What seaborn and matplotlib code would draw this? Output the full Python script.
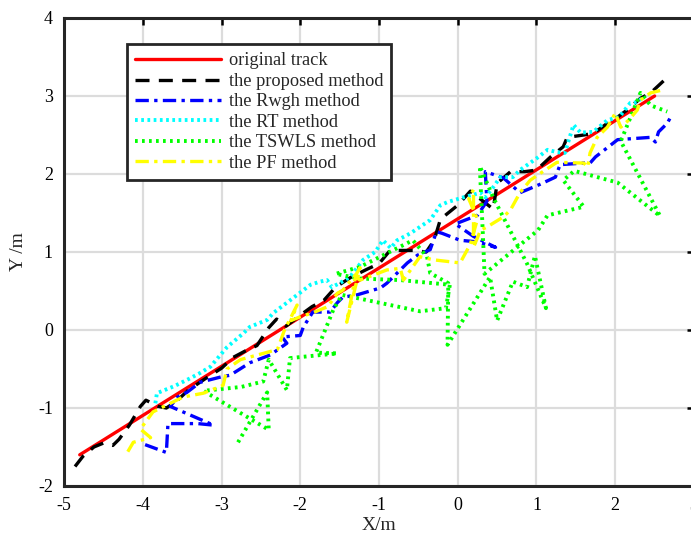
import numpy as np
import pandas as pd
import seaborn as sns
import matplotlib
matplotlib.use("Agg")
import matplotlib.pyplot as plt

# ---- trajectory data (metres) ----
orig_x = [-4.80, 2.50]
orig_y = [-1.60, 3.00]

prop_x = [-4.86, -4.76, -4.62, -4.50, -4.38, -4.30, -4.17, -4.03, -3.96, -3.80, -3.70, -3.58,
          -3.42, -3.20, -3.00, -2.85, -2.70, -2.55, -2.40, -2.30, -2.18, -2.00, -1.85, -1.70,
          -1.55, -1.35, -1.15, -1.00, -0.86, -0.57, -0.40, -0.30, -0.22, 0.00, 0.16, 0.45,
          0.50, 0.67, 0.85, 1.00, 1.18, 1.34, 1.39, 1.60, 1.72, 1.90, 2.03, 2.15, 2.32, 2.45, 2.62]
prop_y = [-1.75, -1.62, -1.50, -1.45, -1.48, -1.40, -1.22, -0.98, -0.90, -0.98, -1.00, -0.92,
          -0.77, -0.62, -0.49, -0.35, -0.27, -0.20, 0.03, 0.14, 0.05, 0.19, 0.30, 0.38,
          0.55, 0.68, 0.78, 0.85, 1.02, 1.02, 1.00, 1.15, 1.42, 1.60, 1.78, 1.55,
          1.88, 2.03, 2.03, 2.05, 2.22, 2.35, 2.47, 2.50, 2.52, 2.65, 2.73, 2.82, 2.97, 3.04, 3.20]

rwgh_x = [-3.97, -3.70, -3.68, -3.30, -3.10, -3.65, -3.56, -3.44, -3.27, -3.00, -2.89, -2.64,
          -2.38, -2.17, -2.23, -2.00, -1.96, -1.84, -1.62, -1.53, -1.46, -1.28, -0.98, -0.90,
          -0.64, -0.51, -0.35, -0.27, -0.20, 0.03, 0.25, 0.48, 0.20, -0.03, 0.25, 0.37,
          0.35, 0.58, 0.79, 1.05, 1.24, 1.30, 1.60, 1.68, 1.75, 2.03, 2.45, 2.51, 2.55, 2.66, 2.72]
rwgh_y = [-1.47, -1.57, -1.20, -1.20, -1.22, -0.98, -0.86, -0.80, -0.67, -0.60, -0.58, -0.42,
          -0.32, -0.17, -0.09, -0.07, 0.04, 0.23, 0.23, 0.35, 0.42, 0.45, 0.54, 0.60,
          0.86, 0.96, 1.03, 1.26, 1.24, 1.15, 1.13, 1.06, 1.20, 1.36, 1.47, 1.65,
          2.03, 1.95, 1.76, 1.87, 1.96, 2.12, 2.14, 2.14, 2.22, 2.44, 2.47, 2.41, 2.54, 2.65, 2.76]

rt_x = [-3.84, -3.82, -3.60, -3.40, -3.27, -3.14, -2.93, -2.72, -2.64, -2.42, -2.34, -2.13,
        -1.87, -1.75, -1.66, -1.60, -1.50, -1.37, -1.20, -1.05, -0.95, -0.85, -0.77, -0.60,
        -0.35, -0.22, -0.13, 0.07, 0.29, 0.35, 0.45, 0.54, 0.70, 0.79, 1.00, 1.14, 1.26,
        1.36, 1.47, 1.56, 1.72, 1.90, 2.05, 2.19, 2.28, 2.36]
rt_y = [-0.94, -0.81, -0.72, -0.62, -0.55, -0.47, -0.22, -0.04, 0.04, 0.13, 0.22, 0.38,
        0.58, 0.62, 0.64, 0.55, 0.60, 0.68, 0.90, 1.00, 1.15, 1.05, 1.15, 1.24,
        1.41, 1.60, 1.64, 1.70, 1.76, 1.70, 1.83, 1.96, 1.96, 2.05, 2.20, 2.31, 2.28,
        2.27, 2.63, 2.53, 2.54, 2.69, 2.73, 2.91, 2.92, 2.99]

tswls_x = [-2.79, -2.42, -2.40, -3.23, -2.75, -2.47, -2.40, -2.17, -2.13, -1.53, -1.80, -1.58,
           -1.47, -0.48, -0.15, -0.10, -0.73, -1.25, -1.55, -1.24, -0.57, -0.39, -0.35, -0.12,
           -0.13, 0.41, 0.50, 0.70, 0.88, 0.98, 1.12, 0.88, 0.45, 0.28, 0.32, 0.34, 1.02,
           1.14, 1.60, 1.34, 1.48, 2.03, 2.57, 2.07, 2.32, 2.45, 2.66]
tswls_y = [-1.44, -0.80, -1.28, -0.78, -0.73, -0.66, -0.38, -0.77, -0.36, -0.30, -0.29, 0.26,
           0.45, 0.24, 0.28, 0.58, 0.64, 0.66, 0.72, 0.81, 1.15, 0.94, 0.73, 0.60,
           -0.19, 0.68, 0.12, 0.62, 0.55, 0.95, 0.28, 0.85, 1.70, 2.10, 1.20, 0.72, 1.28,
           1.47, 1.58, 1.92, 2.04, 1.89, 1.46, 2.42, 3.04, 2.88, 2.80]

pf_x = [-4.19, -4.12, -3.90, -4.03, -3.87, -3.65, -3.49, -3.23, -2.98, -2.93, -2.76, -2.47,
        -2.29, -2.20, -2.04, -2.12, -2.00, -1.84, -1.65, -1.53, -1.46, -1.28, -1.24, -1.41,
        -1.30, -1.24, -0.90, -0.73, -0.69, -0.48, -0.31, 0.03, 0.16, 0.25, 0.14, 0.20,
        0.20, 0.29, 0.37, 0.58, 0.67, 0.79, 0.92, 1.05, 1.26, 1.60, 1.65, 1.68, 1.77,
        1.90, 2.00, 2.07, 2.17, 2.28, 2.32, 2.45, 2.61]
pf_y = [-1.56, -1.44, -1.38, -1.27, -1.05, -0.94, -0.86, -0.81, -0.71, -0.50, -0.38, -0.30,
        -0.25, 0.00, 0.32, 0.12, 0.17, 0.22, 0.30, 0.47, 0.51, 0.73, 0.80, 0.10,
        0.68, 0.64, 0.77, 0.79, 0.64, 0.94, 0.90, 0.86, 1.10, 1.42, 1.68, 1.80,
        1.06, 1.28, 1.32, 1.45, 1.54, 1.76, 1.92, 2.01, 2.15, 2.14, 2.09, 2.27, 2.47,
        2.60, 2.78, 2.60, 2.69, 2.82, 2.95, 3.04, 3.08]

labels = ["original track", "the proposed method", "the Rwgh method",
          "the RT method", "the TSWLS method", "the PF method"]

series = [
    (orig_x, orig_y, dict(color="#ff0000", linestyle="-", linewidth=2.4)),
    (prop_x, prop_y, dict(color="#000000", linestyle=(0, (4.2, 2.8)), linewidth=2.4)),
    (rwgh_x, rwgh_y, dict(color="#0000ff", linestyle=(0, (4.0, 1.6, 1.0, 1.6)), linewidth=2.4)),
    (rt_x, rt_y, dict(color="#00ffff", linestyle=(0, (0.7, 0.9)), linewidth=2.8)),
    (tswls_x, tswls_y, dict(color="#00ff00", linestyle=(0, (0.7, 1.1)), linewidth=2.8)),
    (pf_x, pf_y, dict(color="#ffff00", linestyle=(0, (4.0, 1.6, 1.0, 1.6)), linewidth=2.4)),
]

sns.set_theme(style="white")
plt.rcParams["font.family"] = ["Liberation Serif", "DejaVu Serif"]
plt.rcParams["axes.unicode_minus"] = False

fig = plt.figure(figsize=(6.91, 5.41), dpi=100)
ax = fig.add_axes([64 / 691, 55 / 541, 630 / 691, 468 / 541])

for (xs, ys, style), lab in zip(series, labels):
    df = pd.DataFrame({"x": xs, "y": ys})
    sns.lineplot(data=df, x="x", y="y", sort=False, estimator=None, ax=ax,
                 label=lab, **style)

ax.set_xlim(-5, 3)
ax.set_ylim(-2, 4)
ax.set_xticks(np.arange(-5, 4, 1))
ax.set_yticks(np.arange(-2, 5, 1))
ax.grid(True, color="#dcdcdc", linewidth=1.6)
ax.set_axisbelow(True)
ax.tick_params(direction="in", length=5, width=1.8, top=True, right=True,
               labelsize=13, colors="black", pad=8)
for sp in ax.spines.values():
    sp.set_color("#262626")
    sp.set_linewidth(2.2)

ax.set_xlabel("X/m", fontsize=14, labelpad=2)
ax.set_ylabel("Y /m", fontsize=14, labelpad=8)

leg = ax.legend(loc="upper left", bbox_to_anchor=(0.1, 0.944), borderaxespad=0,
                fontsize=13.2, handlelength=4.7, handletextpad=0.4,
                labelspacing=0.19, borderpad=0.45, fancybox=False, framealpha=1)
leg.get_frame().set_edgecolor("#262626")
leg.get_frame().set_linewidth(2.0)

fig.savefig("out.png", dpi=100)
